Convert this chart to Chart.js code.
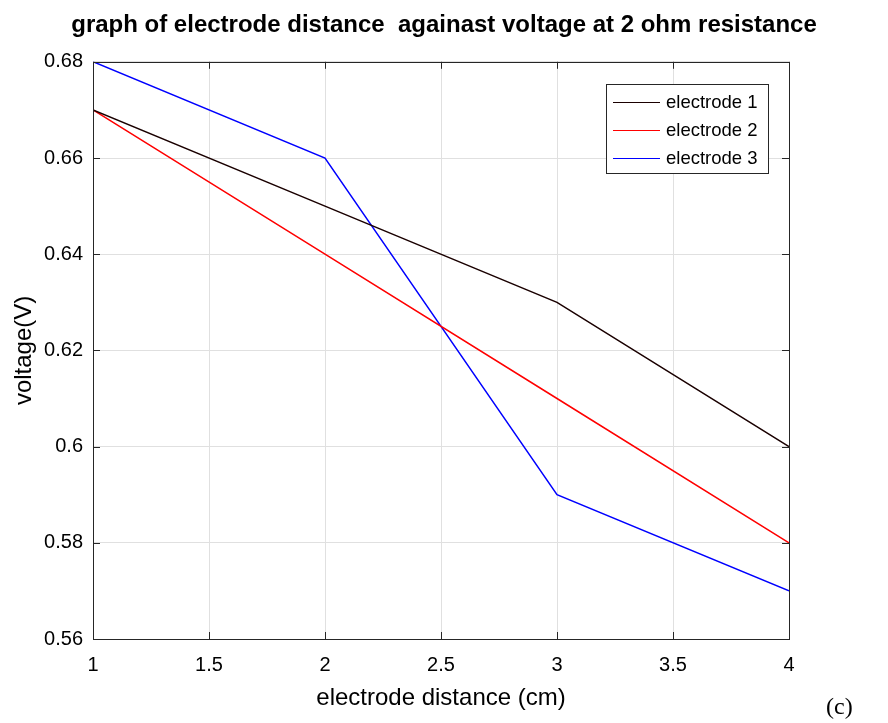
<!DOCTYPE html>
<html>
<head>
<meta charset="utf-8">
<title>electrode distance vs voltage</title>
<script src="https://cdn.jsdelivr.net/npm/chart.js"></script>
<style>
  body { margin: 0; background: #fff; }
  canvas { display: block; }
</style>
</head>
<body>
<canvas id="chart" width="888" height="723"></canvas>
<script>
// values
const distances = [1, 2, 3, 4];
const electrode1 = [0.67, 0.65, 0.63, 0.60];
const electrode2 = [0.67, 0.64, 0.61, 0.58];
const electrode3 = [0.68, 0.66, 0.59, 0.57];
const seriesNames = ['electrode 1', 'electrode 2', 'electrode 3'];
const seriesColors = ['#1a0000', '#ff0000', '#0000ff'];

const FONT = "'Liberation Sans', Arial, Helvetica, sans-serif";
Chart.defaults.font.family = FONT;
Chart.defaults.color = '#000';

function toPoints(ys) {
  return distances.map((x, i) => ({ x: x, y: ys[i] }));
}

// matlab style extras: inward ticks, box, legend inside, panel letter
const matlabBits = {
  id: 'matlabBits',
  afterDatasetsDraw(chart) {
    const ctx = chart.ctx;
    const a = chart.chartArea;
    const xs = chart.scales.x, ys = chart.scales.y;
    const len = 7;
    ctx.save();
    ctx.strokeStyle = '#262626';
    ctx.lineWidth = 1;
    ctx.beginPath();
    xs.ticks.forEach(t => {
      const px = Math.round(xs.getPixelForValue(t.value)) + 0.5;
      ctx.moveTo(px, a.bottom); ctx.lineTo(px, a.bottom - len);
      ctx.moveTo(px, a.top); ctx.lineTo(px, a.top + len);
    });
    ys.ticks.forEach(t => {
      const py = Math.round(ys.getPixelForValue(t.value)) + 0.5;
      ctx.moveTo(a.left, py); ctx.lineTo(a.left + len, py);
      ctx.moveTo(a.right, py); ctx.lineTo(a.right - len, py);
    });
    ctx.stroke();
    ctx.strokeRect(Math.round(a.left) + 0.5, Math.round(a.top) + 0.5,
                   Math.round(a.right - a.left), Math.round(a.bottom - a.top));

    // legend box
    const lx = 606, ly = 84, lw = 162, lh = 89;
    ctx.fillStyle = '#fff';
    ctx.fillRect(lx, ly, lw, lh);
    ctx.strokeStyle = '#262626';
    ctx.strokeRect(lx + 0.5, ly + 0.5, lw, lh);
    ctx.font = '18.5px ' + FONT;
    ctx.textBaseline = 'middle';
    ctx.textAlign = 'left';
    chart.data.datasets.forEach((ds, i) => {
      const y = ly + 18 + i * 28;
      ctx.strokeStyle = ds.borderColor;
      ctx.lineWidth = 1;
      ctx.beginPath();
      ctx.moveTo(lx + 7, y + 0.5); ctx.lineTo(lx + 54, y + 0.5);
      ctx.stroke();
      ctx.fillStyle = '#000';
      ctx.fillText(ds.label, lx + 60, y + 1);
    });

    // panel letter
    ctx.font = "24px 'Liberation Serif', 'Times New Roman', serif";
    ctx.fillStyle = '#000';
    ctx.fillText('(c)', 826, 708);
    ctx.restore();
  }
};

const fmt = v => String(Number(v.toFixed(2)));

new Chart(document.getElementById('chart'), {
  type: 'line',
  data: {
    datasets: [
      { label: seriesNames[0], data: toPoints(electrode1), borderColor: seriesColors[0] },
      { label: seriesNames[1], data: toPoints(electrode2), borderColor: seriesColors[1] },
      { label: seriesNames[2], data: toPoints(electrode3), borderColor: seriesColors[2] }
    ]
  },
  options: {
    responsive: false,
    animation: false,
    layout: { padding: 0 },
    elements: {
      line: { borderWidth: 1.5, tension: 0, fill: false },
      point: { radius: 0, hoverRadius: 0 }
    },
    plugins: {
      legend: { display: false },
      tooltip: { enabled: false },
      title: {
        display: true,
        text: 'graph of electrode distance  againast voltage at 2 ohm resistance',
        font: { size: 24, weight: 'bold' },
        color: '#000',
        padding: { top: 11, bottom: 22 }
      }
    },
    scales: {
      x: {
        type: 'linear',
        min: 1, max: 4,
        ticks: { stepSize: 0.5, callback: fmt, font: { size: 20 }, padding: 14, maxRotation: 0 },
        grid: { color: '#e0e0e0', drawTicks: false },
        border: { display: false },
        title: { display: true, text: 'electrode distance (cm)', font: { size: 24 }, padding: { top: 0, bottom: 10 } },
        afterFit(s) { s.height = 84; }
      },
      y: {
        type: 'linear',
        min: 0.56, max: 0.68,
        ticks: { stepSize: 0.02, callback: fmt, font: { size: 20 }, padding: 10 },
        grid: { color: '#e0e0e0', drawTicks: false },
        border: { display: false },
        title: { display: true, text: 'voltage(V)', font: { size: 24 }, padding: { top: 10, bottom: 0 } },
        afterFit(s) { s.width = 93; }
      },
      yRight: {
        type: 'linear',
        position: 'right',
        grid: { display: false },
        ticks: { display: false },
        border: { display: false },
        afterFit(s) { s.width = 99; }
      }
    }
  },
  plugins: [matlabBits]
});
</script>
</body>
</html>
